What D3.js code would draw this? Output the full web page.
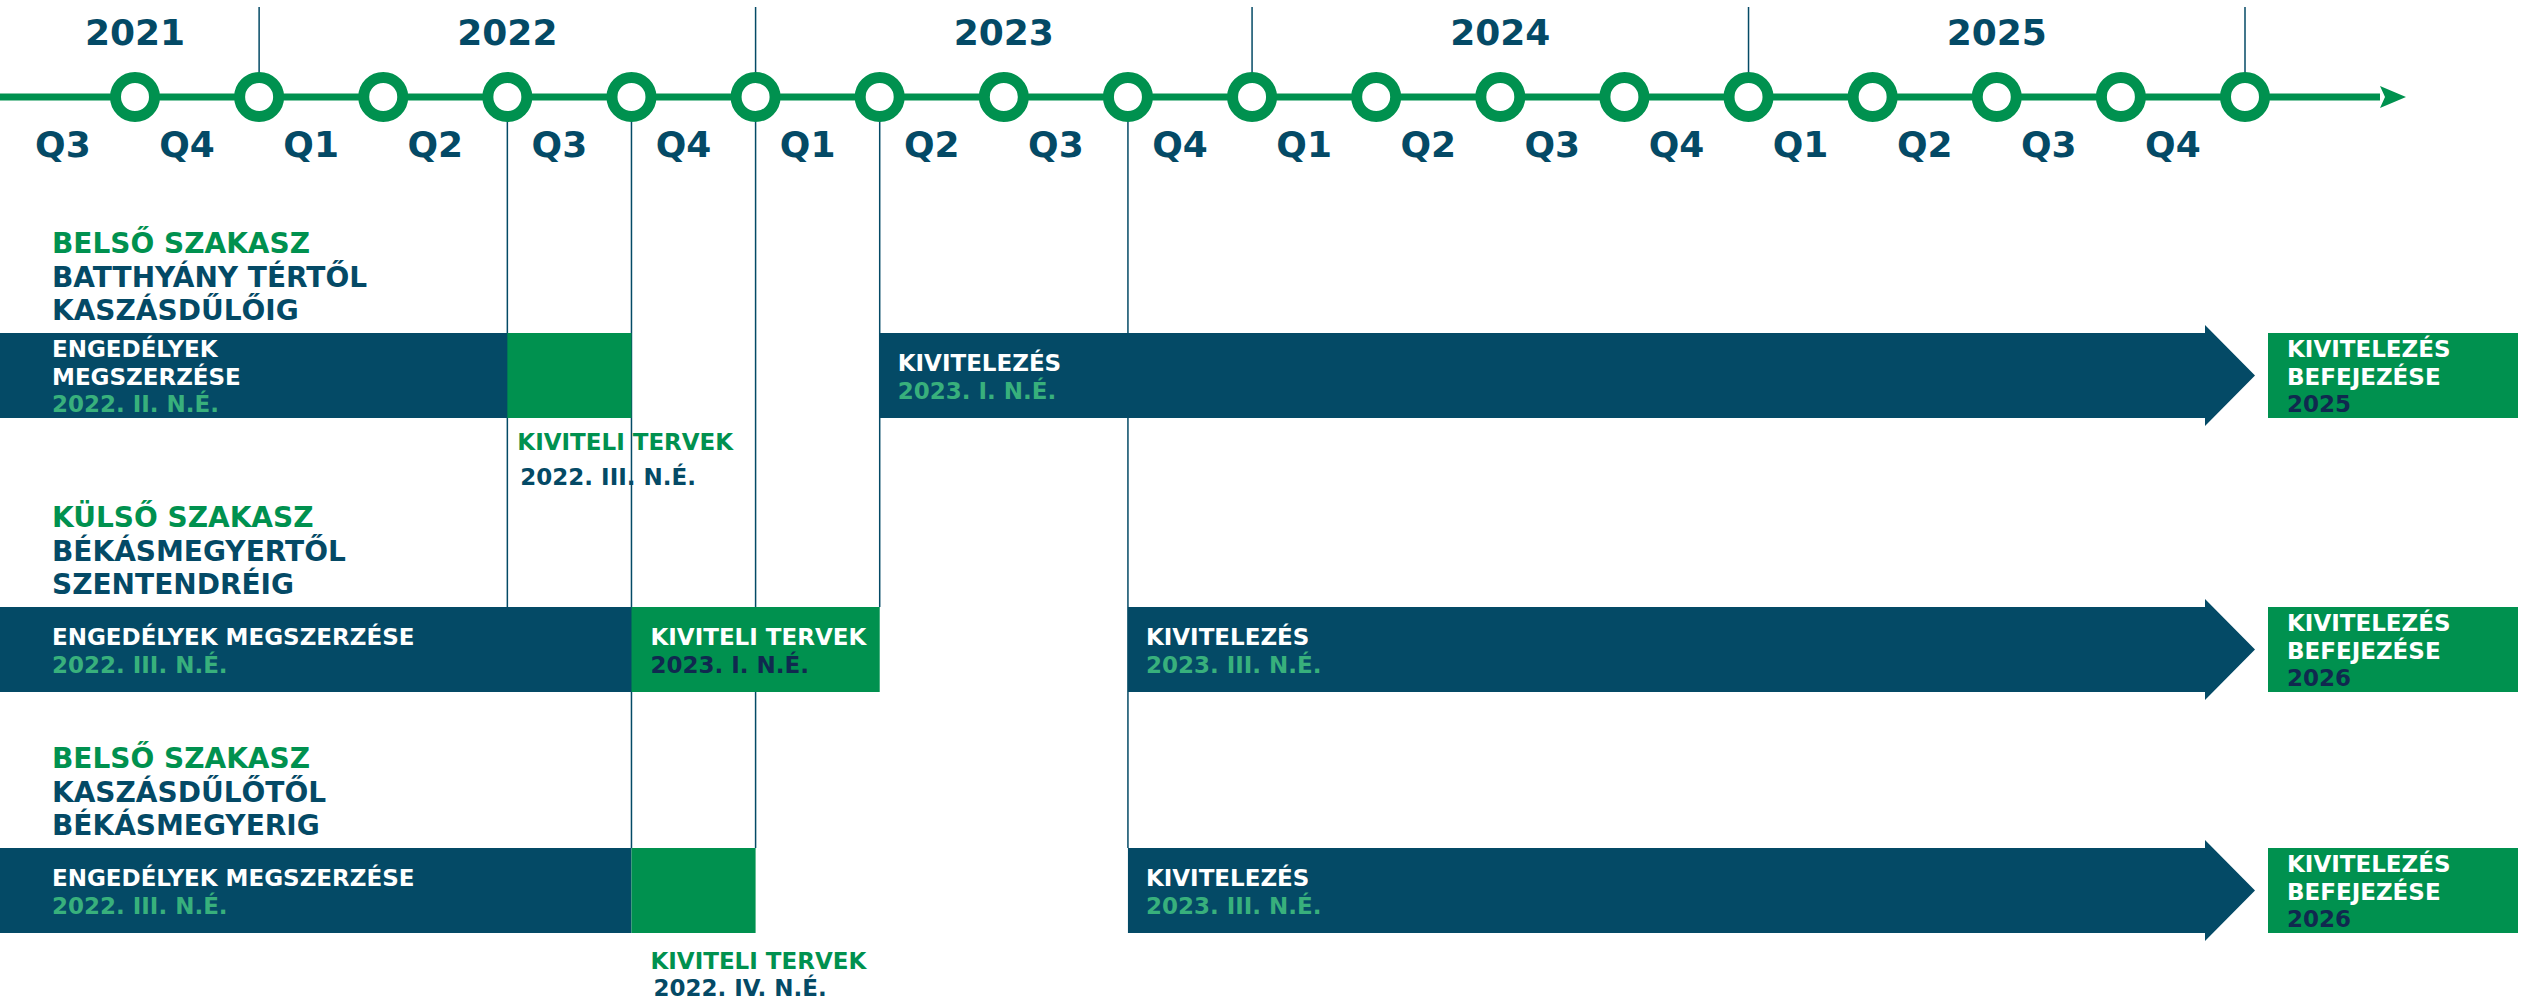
<!DOCTYPE html>
<html>
<head>
<meta charset="utf-8">
<script src="https://cdn.jsdelivr.net/npm/d3@7"></script>
<style>
  body { margin: 0; background: #fff; }
  svg text { font-family: 'DejaVu Sans', sans-serif; font-weight: bold; }
</style>
</head>
<body>
<svg id="chart" width="2526" height="1000"></svg>
<script>
// --- data ---
// quarter labels from 2021 Q3 to 2025 Q4
const quarters = ["Q3", "Q4", "Q1", "Q2", "Q3", "Q4", "Q1", "Q2", "Q3", "Q4",
                  "Q1", "Q2", "Q3", "Q4", "Q1", "Q2", "Q3", "Q4"];
const years = ["2021", "2022", "2023", "2024", "2025"];
const yearCenters = [1, 4, 8, 12, 16];   // in quarters since 2021 Q3
const yearBounds = [2, 6, 10, 14, 18];

const sections = [
    { tag: "BELSŐ SZAKASZ", lines: ["BATTHYÁNY TÉRTŐL", "KASZÁSDŰLŐIG"] },
    { tag: "KÜLSŐ SZAKASZ", lines: ["BÉKÁSMEGYERTŐL", "SZENTENDRÉIG"] },
    { tag: "BELSŐ SZAKASZ", lines: ["KASZÁSDŰLŐTŐL", "BÉKÁSMEGYERIG"] }
];

// permits phase (starts at left edge)
const permits = [
    { start: 0, end: 4, lines: ["ENGEDÉLYEK", "MEGSZERZÉSE"], date: "2022. II. N.É." },
    { start: 0, end: 5, lines: ["ENGEDÉLYEK MEGSZERZÉSE"], date: "2022. III. N.É." },
    { start: 0, end: 5, lines: ["ENGEDÉLYEK MEGSZERZÉSE"], date: "2022. III. N.É." }
];

// detailed plans phase
const designs = [
    { start: 4, end: 5, label: "KIVITELI TERVEK", date: "2022. III. N.É.", inside: false },
    { start: 5, end: 7, label: "KIVITELI TERVEK", date: "2023. I. N.É.", inside: true },
    { start: 5, end: 6, label: "KIVITELI TERVEK", date: "2022. IV. N.É.", inside: false }
];

// construction phase
const builds = [
    { start: 7, label: "KIVITELEZÉS", date: "2023. I. N.É." },
    { start: 9, label: "KIVITELEZÉS", date: "2023. III. N.É." },
    { start: 9, label: "KIVITELEZÉS", date: "2023. III. N.É." }
];

const finishLines = ["KIVITELEZÉS", "BEFEJEZÉSE"];
const finishYears = ["2025", "2026", "2026"];

// thin guides from the timeline down to a row (quarter, row index)
const guides = [
    { q: 4, row: 1 }, { q: 5, row: 2 }, { q: 6, row: 2 }, { q: 7, row: 1 }, { q: 9, row: 2 }
];

// --- layout ---
const NAVY = "#044a66", GREEN = "#00914f", LIGHT = "#38b07c", INK = "#10294f";
const axisY = 97;
const rowTops = [333, 607, 848];
const barH = 85;
const belowDx = [10, 0, 19];
const belowDy = [[32, 67], null, [36, 63]];

const svg = d3.select("#chart");
const x = d3.scaleLinear().domain([1, 18]).range([135, 2245]);

const tipX = x(18) + 10, headStart = x(18) - 40;
const boxX = x(18) + 23, boxW = 250;

// guides behind everything
svg.append("g").selectAll("line")
    .data(guides)
    .enter()
    .append("line")
    .attr("x1", d => x(d.q)).attr("x2", d => x(d.q))
    .attr("y1", axisY).attr("y2", d => rowTops[d.row])
    .attr("stroke", NAVY).attr("stroke-width", 1.5);

// year separators
svg.append("g").selectAll("line")
    .data(yearBounds)
    .enter()
    .append("line")
    .attr("x1", d => x(d)).attr("x2", d => x(d))
    .attr("y1", 7).attr("y2", axisY)
    .attr("stroke", NAVY).attr("stroke-width", 1.5);

// year labels
svg.append("g").selectAll("text")
    .data(years)
    .enter()
    .append("text")
    .attr("x", (d, i) => x(yearCenters[i]))
    .attr("y", 45)
    .attr("text-anchor", "middle")
    .attr("font-size", 36)
    .attr("fill", NAVY)
    .text(d => d);

// timeline arrow
svg.append("line")
    .attr("x1", 0).attr("x2", tipX + 125)
    .attr("y1", axisY).attr("y2", axisY)
    .attr("stroke", GREEN).attr("stroke-width", 7);
const ah = tipX + 151;
svg.append("path")
    .attr("d", `M${ah - 26},${axisY - 11} L${ah},${axisY} L${ah - 26},${axisY + 11} L${ah - 21},${axisY} Z`)
    .attr("fill", GREEN);

// quarter circles
svg.append("g").selectAll("circle")
    .data(d3.range(1, 19))
    .enter()
    .append("circle")
    .attr("cx", d => x(d)).attr("cy", axisY)
    .attr("r", 19.5)
    .attr("fill", "#fff")
    .attr("stroke", GREEN)
    .attr("stroke-width", 11);

// quarter labels
svg.append("g").selectAll("text")
    .data(quarters)
    .enter()
    .append("text")
    .attr("x", (d, i) => x(i + 0.5) - 10)
    .attr("y", 157)
    .attr("text-anchor", "middle")
    .attr("font-size", 36)
    .attr("fill", NAVY)
    .text(d => d);

// section titles
const titles = svg.append("g").selectAll("text")
    .data(sections)
    .enter()
    .append("text")
    .attr("font-size", 28)
    .attr("x", 52);
titles.append("tspan").attr("y", (d, i) => rowTops[i] - 80).attr("x", 52)
    .attr("fill", GREEN).text(d => d.tag);
titles.each(function (d, i) {
    d.lines.forEach((l, j) => {
        d3.select(this).append("tspan")
            .attr("x", 52).attr("y", rowTops[i] - 46 + j * 33)
            .attr("fill", NAVY).text(l);
    });
});

// helper for stacked text in a box
function stack(g, x0, top, items) {
    const ys = items.length === 3 ? [24, 52, 79] : [38, 66];
    items.forEach((it, j) => {
        g.append("text")
            .attr("x", x0).attr("y", top + ys[j])
            .attr("font-size", 23)
            .attr("fill", it.c)
            .text(it.t);
    });
}

// permits
permits.forEach((d, i) => {
    const g = svg.append("g");
    const x0 = d.start === 0 ? 0 : x(d.start);
    g.append("rect")
        .attr("x", x0).attr("y", rowTops[i])
        .attr("width", x(d.end) - x0).attr("height", barH)
        .attr("fill", NAVY);
    stack(g, 52, rowTops[i], d.lines.map(t => ({ t, c: "#fff" })).concat([{ t: d.date, c: LIGHT }]));
});

// designs
designs.forEach((d, i) => {
    const g = svg.append("g");
    g.append("rect")
        .attr("x", x(d.start)).attr("y", rowTops[i])
        .attr("width", x(d.end) - x(d.start)).attr("height", barH)
        .attr("fill", GREEN);
    if (d.inside) {
        stack(g, x(d.start) + 19, rowTops[i], [{ t: d.label, c: "#fff" }, { t: d.date, c: INK }]);
    } else {
        const bx = x(d.start) + belowDx[i], by = rowTops[i] + barH;
        g.append("text").attr("x", bx).attr("y", by + belowDy[i][0])
            .attr("font-size", 23).attr("fill", GREEN).text(d.label);
        g.append("text").attr("x", bx + 3).attr("y", by + belowDy[i][1])
            .attr("font-size", 23).attr("fill", NAVY).text(d.date);
    }
});

// construction arrows
builds.forEach((d, i) => {
    const g = svg.append("g");
    const t = rowTops[i], b = t + barH, m = t + barH / 2;
    g.append("path")
        .attr("d", `M${x(d.start)},${t} L${headStart},${t} L${headStart},${t - 8} L${tipX},${m}
                    L${headStart},${b + 8} L${headStart},${b} L${x(d.start)},${b} Z`)
        .attr("fill", NAVY);
    stack(g, x(d.start) + 18, t, [{ t: d.label, c: "#fff" }, { t: d.date, c: LIGHT }]);
});

// completion boxes
finishYears.forEach((yr, i) => {
    const g = svg.append("g");
    g.append("rect")
        .attr("x", boxX).attr("y", rowTops[i])
        .attr("width", boxW).attr("height", barH)
        .attr("fill", GREEN);
    stack(g, boxX + 19, rowTops[i], finishLines.map(t => ({ t, c: "#fff" })).concat([{ t: yr, c: INK }]));
});
</script>
</body>
</html>
